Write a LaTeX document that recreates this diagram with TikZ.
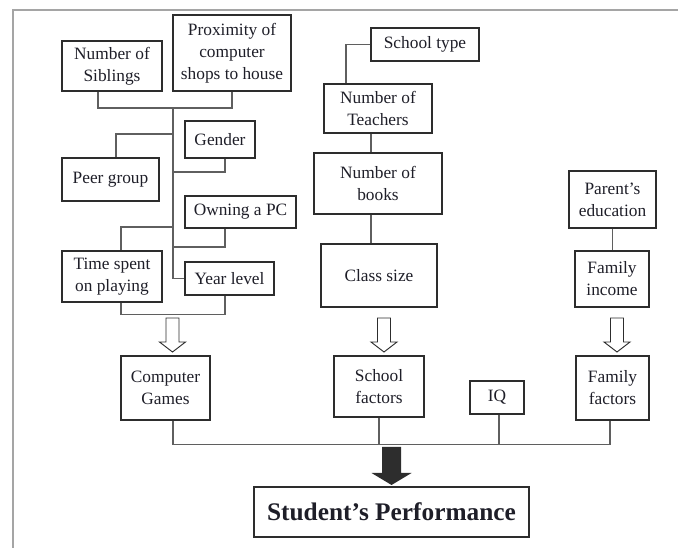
\documentclass[tikz,border=0pt]{standalone}
\usepackage{fontspec}
\setmainfont{Liberation Serif}
\usetikzlibrary{calc}
\definecolor{BoxClr}{RGB}{45,45,45}
\definecolor{LineClr}{RGB}{95,95,95}
\definecolor{FrameClr}{RGB}{165,165,165}
\definecolor{TextClr}{RGB}{30,30,40}

\begin{document}
\begin{tikzpicture}[x=0.75pt,y=-0.75pt,
  box/.style={draw=BoxClr,line width=0.8pt,align=center,inner sep=0pt,text=TextClr,
    font=\fontsize{13}{16.5}\selectfont},
  sz/.style 2 args={minimum width=#1*0.75pt,minimum height=#2*0.75pt},
  link/.style={draw=LineClr,line width=0.8pt},
  frame/.style={draw=FrameClr,line width=1.5pt},
  hollow/.pic={\draw[draw=BoxClr,line width=0.7pt,fill=white]
    (-6.5,0) -- (-6.5,24) -- (-13,24) -- (0,34) -- (13,24) -- (6.5,24) -- (6.5,0) -- cycle;},
  solid/.pic={\fill[BoxClr]
    (-9.5,0) -- (-9.5,26) -- (-20,26) -- (0,38) -- (20,26) -- (9.5,26) -- (9.5,0) -- cycle;}]
\useasboundingbox (0,0) rectangle (678,548);
\draw[frame] (13,548) -- (13,10) -- (678,10);

% computer games group
\node[box,sz={100}{50}] (sib) at (112,66) {Number of\\Siblings};
\node[box,sz={118}{76}] (prox) at (232,53) {Proximity of\\computer\\shops to house};
\node[box,sz={70}{37}] (gender) at (220,139.5) {Gender};
\node[box,sz={97}{43}] (peer) at (110.5,179.5) {Peer group};
\node[box,sz={111}{32}] (ownpc) at (240.5,212) {Owning a PC};
\node[box,sz={100}{51}] (timesp) at (112,276.5) {Time spent\\on playing};
\node[box,sz={89}{33}] (year) at (229.5,278.5) {Year level};

\coordinate (tr) at (173,108);
\draw[link] ($(sib.south)+(-14,0)$) |- (tr) -| (prox.south);
\draw[link] (tr) |- (year.west);
\draw[link] ($(gender.south)+(5,0)$) |- (tr |- 0,172);
\draw[link] (tr |- 0,134) -| ($(peer.north)+(5.5,0)$);
\draw[link] ($(ownpc.south)+(-15.5,0)$) |- (tr |- 0,247);
\draw[link] (tr |- 0,227) -| ($(timesp.north)+(9,0)$);
\draw[link] ($(timesp.south)+(9,0)$) |- ($(year.south)+(-4.5,19)$) -- ($(year.south)+(-4.5,0)$);

% school group
\node[box,sz={108}{33}] (stype) at (425,44.5) {School type};
\node[box,sz={108}{49}] (teach) at (378,108.5) {Number of\\Teachers};
\node[box,sz={128}{61}] (books) at (378,183.5) {Number of\\books};
\node[box,sz={116}{63}] (csize) at (379,275.5) {Class size};

\draw[link] (stype.west) -| ($(teach.north)+(-32,0)$);
\draw[link] ($(teach.south)+(-7,0)$) coordinate (s1) -- (s1 |- books.north);
\draw[link] ($(books.south)+(-7,0)$) coordinate (s2) -- (s2 |- csize.north);

% family group
\node[box,sz={87}{57}] (pared) at (612.5,199.5) {Parent's\\education};
\node[box,sz={74}{56}] (finc) at (612,279) {Family\\income};
\draw[link] (pared.south) -- (pared.south |- finc.north);

% factors
\node[box,sz={89}{64}] (cgames) at (165.5,388) {Computer\\Games};
\node[box,sz={90}{61}] (schf) at (379,386.5) {School\\factors};
\node[box,sz={54}{33}] (iq) at (497,397.5) {IQ};
\node[box,sz={73}{64}] (famf) at (612.5,388) {Family\\factors};
\node[box,sz={275}{50},font=\fontsize{19}{22}\selectfont\bfseries] (perf) at (391.5,512) {Student's Performance};

\pic at (172.5,318) {hollow};
\pic at (384,318) {hollow};
\pic at (617,318) {hollow};

\coordinate (bus) at (0,444);
\draw[link] ($(cgames.south)+(7.5,0)$) |- ($(famf.south)+(-2.5,24)$) -- ($(famf.south)+(-2.5,0)$);
\draw[link] (schf.south) -- (schf.south |- bus);
\draw[link] ($(iq.south)+(2,0)$) coordinate (q) -- (q |- bus);

\pic at (391.5,447) {solid};
\end{tikzpicture}
\end{document}
